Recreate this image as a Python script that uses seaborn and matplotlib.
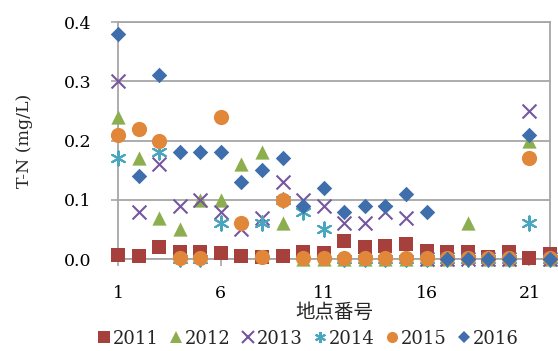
import numpy as np
import pandas as pd
import seaborn as sns
import matplotlib.pyplot as plt
from matplotlib.lines import Line2D

# ── Data: T-N (mg/L) per site, 2011-2016 ─────────────────────────────────
sites = list(range(1, 23))
nan = np.nan

tn_2011 = [0.007, 0.005, 0.021, 0.011, 0.011, 0.010, 0.005, 0.004, 0.005, 0.012, 0.010,
           0.030, 0.021, 0.022, 0.026, 0.014, 0.012, 0.011, 0.004, 0.012, 0.002, 0.008]
tn_2012 = [0.24, 0.17, 0.07, 0.05, 0.10, 0.10, 0.16, 0.18, 0.06, 0.0, 0.0,
           0.0, 0.0, 0.0, 0.0, 0.0, 0.0, 0.06, 0.0, 0.0, 0.20, 0.0]
tn_2013 = [0.30, 0.08, 0.16, 0.09, 0.10, 0.08, 0.05, 0.07, 0.13, 0.10, 0.09,
           0.06, 0.06, 0.08, 0.07, 0.0, 0.0, 0.0, 0.0, 0.0, 0.25, 0.0]
tn_2014 = [0.17, nan, 0.18, 0.0, 0.0, 0.06, nan, 0.06, 0.10, 0.08, 0.05,
           0.0, 0.0, 0.0, 0.0, 0.0, 0.0, 0.0, 0.0, 0.0, 0.06, 0.0]
tn_2015 = [0.21, 0.22, 0.20, 0.002, 0.002, 0.24, 0.06, 0.003, 0.10, 0.001, 0.001,
           0.001, 0.001, 0.001, 0.001, 0.001, 0.001, 0.001, 0.001, 0.001, 0.17, 0.001]
tn_2016 = [0.38, 0.14, 0.31, 0.18, 0.18, 0.18, 0.13, 0.15, 0.17, 0.09, 0.12,
           0.08, 0.09, 0.09, 0.11, 0.08, 0.0, 0.0, 0.0, 0.0, 0.21, 0.0]

years = ["2011", "2012", "2013", "2014", "2015", "2016"]
values = [tn_2011, tn_2012, tn_2013, tn_2014, tn_2015, tn_2016]

# ── Style per series (Excel-like) ────────────────────────────────────────
colors  = ["#A5403D", "#8DAE4F", "#76569E", "#4AA6BE", "#E0873A", "#3E6EAB"]
markers = ["s", "^", "x", (6, 2, 0), "o", "D"]
sizes   = [100, 105, 100, 105, 120, 62]
filled  = [True, True, False, False, True, True]

sns.set_theme(style="white")
plt.rcParams["font.family"] = ["DejaVu Serif", "Noto Sans CJK JP"]

fig = plt.figure(figsize=(5.58, 3.51), dpi=100)
ax = fig.add_axes([0.2115, 0.2621, 0.9857 - 0.2115, 0.9373 - 0.2621])

for i, (yr, vals) in enumerate(zip(years, values)):
    df = pd.DataFrame({"site": sites, "tn": vals}).dropna()
    kw = dict(linewidth=0) if filled[i] else dict(linewidths=1.5)
    sns.scatterplot(data=df, x="site", y="tn", marker=markers[i], color=colors[i],
                    s=sizes[i], ax=ax, clip_on=False, zorder=3 + i, **kw)

ax.set_xlim(1, 22)
ax.set_ylim(0, 0.4)
ax.set_xticks([1, 6, 11, 16, 21])
ax.set_yticks([0.0, 0.1, 0.2, 0.3, 0.4])
ax.set_yticklabels(["0.0", "0.1", "0.2", "0.3", "0.4"])
ax.yaxis.grid(True, color="#A6A6A6", linewidth=1.3)
ax.xaxis.grid(False)
for side in ["left", "right", "bottom", "top"]:
    ax.spines[side].set_color("#A6A6A6")
    ax.spines[side].set_linewidth(1.3)
ax.tick_params(axis="both", which="major", direction="out", length=5, width=1.2,
               color="#A6A6A6", labelsize=12.5, labelcolor="black")
ax.tick_params(axis="y", pad=14, left=True)
ax.tick_params(axis="x", pad=14, bottom=True)

ax.set_ylabel("T-N (mg/L)", fontsize=12.5, labelpad=22)
ax.set_xlabel("地点番号", fontsize=14, labelpad=0,
              family=["Noto Sans CJK JP", "DejaVu Serif"])

handles = [Line2D([], [], linestyle="none", marker=markers[i], color=colors[i],
                  markersize=6.5 if i == 5 else 8,
                  markeredgewidth=0 if filled[i] else 1.5)
           for i in range(len(years))]
fig.legend(handles, years, loc="center", bbox_to_anchor=(0.55, 0.035), ncol=6,
           frameon=False, fontsize=13, handletextpad=0.0, columnspacing=0.45,
           handlelength=1.0, borderaxespad=0)

fig.savefig("out.png", dpi=100, facecolor="white")
